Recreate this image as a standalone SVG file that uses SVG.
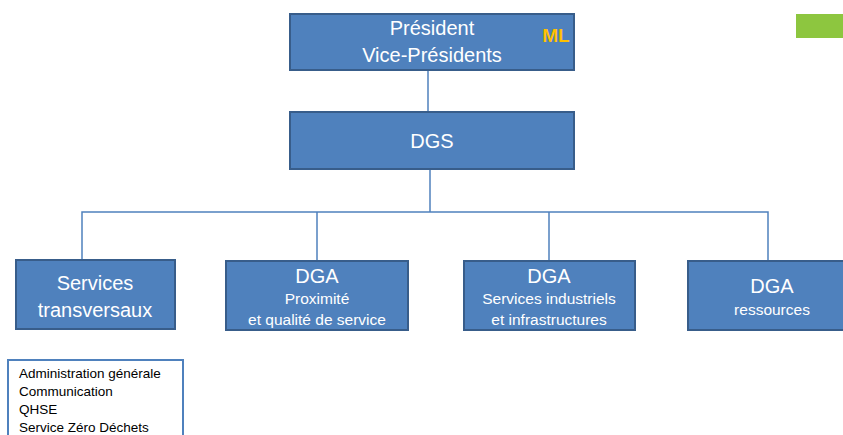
<svg xmlns="http://www.w3.org/2000/svg" width="843" height="435" viewBox="0 0 843 435">
<style>
.box{fill:#4f81bd;stroke:#385d8a;stroke-width:2}
.t{font-family:"Liberation Sans",Arial,sans-serif;fill:#ffffff;text-anchor:middle}
.big{font-size:20px}
.sm{font-size:15.5px}
.conn{fill:none;stroke:#4f81bd;stroke-width:1.5}
.list{font-family:"Liberation Sans",Arial,sans-serif;font-size:13.5px;fill:#000000}
</style>
<rect x="0" y="0" width="843" height="435" fill="#ffffff"/>
<g id="connectors">
<line class="conn" x1="428" y1="70" x2="428" y2="112"/>
<line class="conn" x1="430" y1="169" x2="430" y2="212"/>
<polyline class="conn" points="82,260 82,212 768,212 768,260"/>
<line class="conn" x1="317" y1="212" x2="317" y2="261"/>
<line class="conn" x1="549" y1="212" x2="549" y2="261"/>
</g>
<g id="president">
<rect class="box" x="290" y="14" width="284" height="56"/>
<text class="t big" x="432" y="35">Président</text>
<text class="t big" x="432" y="62">Vice-Présidents</text>
<text x="556" y="42" font-family="Liberation Sans,Arial,sans-serif" font-size="19" font-weight="bold" fill="#ffc000" text-anchor="middle">ML</text>
</g>
<g id="green-marker">
<rect x="796" y="14" width="47" height="24" fill="#8dc63f"/>
</g>
<g id="dgs">
<rect class="box" x="290" y="112" width="284" height="57"/>
<text class="t big" x="432" y="148">DGS</text>
</g>
<g id="services-transversaux">
<rect class="box" x="16" y="260" width="159" height="69"/>
<text class="t big" x="95" y="290">Services</text>
<text class="t big" x="95" y="317">transversaux</text>
</g>
<g id="dga-proximite">
<rect class="box" x="226" y="261" width="182" height="69"/>
<text class="t big" x="317" y="283">DGA</text>
<text class="t sm" x="317" y="304">Proximité</text>
<text class="t sm" x="317" y="325">et qualité de service</text>
</g>
<g id="dga-services-industriels">
<rect class="box" x="464" y="261" width="171" height="69"/>
<text class="t big" x="549" y="283">DGA</text>
<text class="t sm" x="549" y="304">Services industriels</text>
<text class="t sm" x="549" y="325">et infrastructures</text>
</g>
<g id="dga-ressources">
<rect class="box" x="688" y="261" width="160" height="69"/>
<text class="t big" x="772" y="293">DGA</text>
<text class="t sm" x="772" y="315">ressources</text>
</g>
<g id="services-list">
<rect x="8" y="360" width="175" height="80" fill="#ffffff" stroke="#4f81bd" stroke-width="2"/>
<text class="list" x="19" y="378">Administration générale</text>
<text class="list" x="19" y="396">Communication</text>
<text class="list" x="19" y="414">QHSE</text>
<text class="list" x="19" y="432">Service Zéro Déchets</text>
</g>
</svg>
